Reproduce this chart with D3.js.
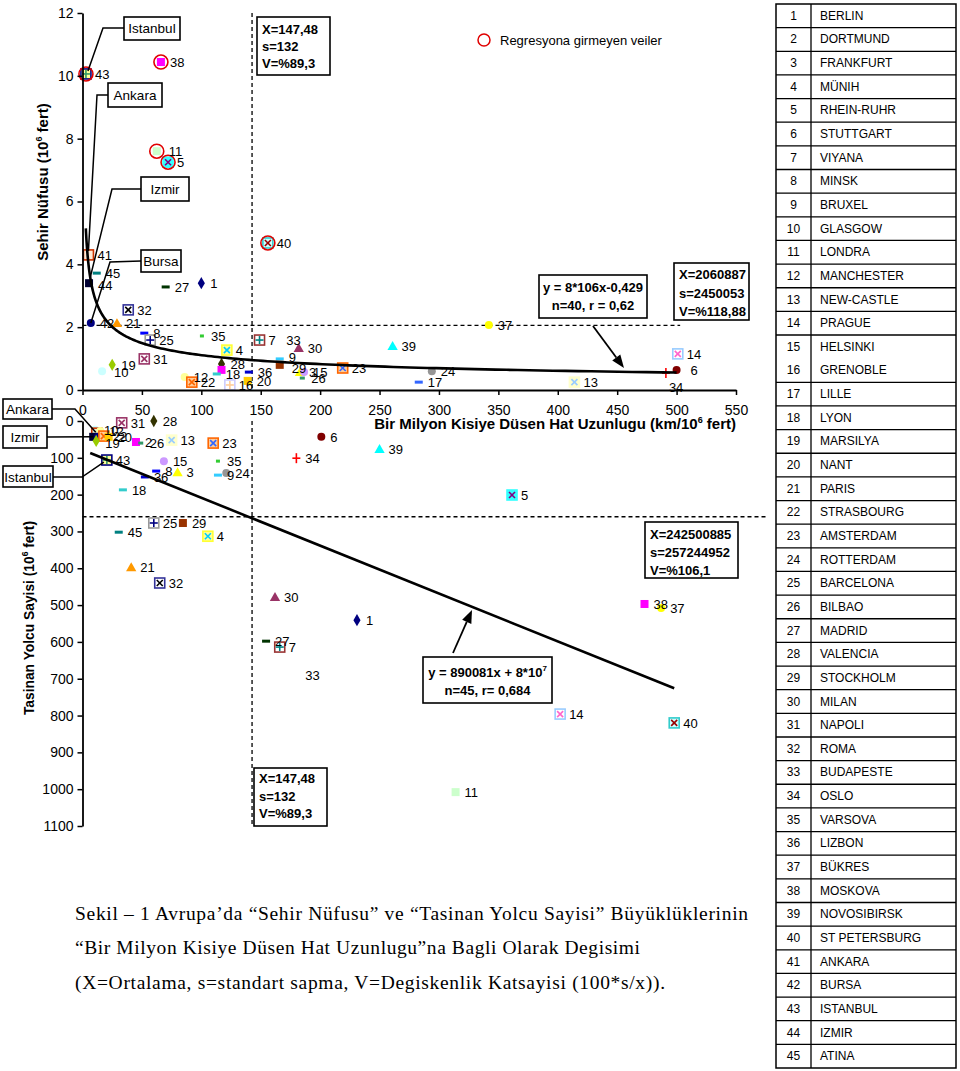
<!DOCTYPE html>
<html><head><meta charset="utf-8">
<script src="https://cdn.jsdelivr.net/npm/d3@7"></script>
<style>body{margin:0;background:#fff}svg{display:block}text{font-family:Arial,"Liberation Sans",sans-serif}</style>
</head><body><svg id="c" width="960" height="1071"></svg>
<script>
// ---------------- DATA ----------------
const cityNames = ["BERLIN","DORTMUND","FRANKFURT","MÜNIH","RHEIN-RUHR","STUTTGART","VIYANA","MINSK","BRUXEL","GLASGOW",
"LONDRA","MANCHESTER","NEW-CASTLE","PRAGUE","HELSINKI","GRENOBLE","LILLE","LYON","MARSILYA","NANT","PARIS","STRASBOURG",
"AMSTERDAM","ROTTERDAM","BARCELONA","BILBAO","MADRID","VALENCIA","STOCKHOLM","MILAN","NAPOLI","ROMA","BUDAPESTE","OSLO",
"VARSOVA","LIZBON","BÜKRES","MOSKOVA","NOVOSIBIRSK","ST PETERSBURG","ANKARA","BURSA","ISTANBUL","IZMIR","ATINA"];
const xTicks = [0,50,100,150,200,250,300,350,400,450,500,550];
const yTopTicks = [0,2,4,6,8,10,12];
const yBotTicks = [0,100,200,300,400,500,600,700,800,900,1000,1100];
// [city no, km per 10^6 people, city population (10^6)]
const topPoints = [
[43,2.9,10.06],[38,66,10.44],[11,62.5,7.6],[5,72,7.25],[40,156,4.68],
[41,5,4.3],[45,12,3.72],[44,5.5,3.4],[42,7,2.13],[21,29,2.13],[32,38.5,2.55],
[27,70,3.28],[1,100,3.4],[8,52,1.81],[25,57,1.59],[35,100.5,1.72],[4,121.5,1.27],
[31,52,0.99],[19,25,0.8],[10,16.5,0.6],[28,117,0.83],[2,117,0.64],[12,86,0.41],
[22,92,0.25],[18,113,0.51],[16,124,0.16],[36,140,0.57],[20,139,0.29],[7,149,1.59],
[33,164,1.59],[30,182,1.34],[9,166,0.99],[29,166,0.8],[3,183,0.57],[15,186.5,0.57],
[26,185,0.38],[23,219,0.7],[39,261,1.4],[24,294,0.6],[17,283,0.25],[37,342,2.07],
[13,414,0.25],[14,501,1.15],[6,500,0.64],[34,491,0.54]];
// [city no, km per 10^6 people, passengers carried (10^6)]
const botPoints = [
[28,60,0],[31,33,5],[10,10.5,24],[41,12,33],[12,15,27],[44,9,43],[42,13,43],[22,18,41],[20,22,43],[19,11.5,54],
[2,45,57],[26,49,60],[13,75,52],[23,110,60],[43,20.5,106],[15,68.5,109],[8,62,136],[3,80,139],[36,52.5,152],
[35,114,109],[9,114,147],[24,121,141],[18,34,187],[6,201,43],[34,180,101],[39,250,76],[5,361.5,201],
[25,60,277],[29,84.5,277],[4,105.5,313],[45,30.5,302],[21,41,397],[32,65,440],[30,162,478],[27,154.5,598],
[7,166,614],[33,180,690],[1,231,541],[11,314,1008],[14,402,796],[40,498,820],[38,473,497],[37,487,508]];
const nonRegression = [43,38,11,5,40];
const topHiddenLabels = [2];
const botHiddenLabels = [41,42,44];
const powerA = 8, powerB = -0.429, powerFrom = 2.8, powerTo = 500;
const linSlope = 1.3, linIntercept = 78.5, linFrom = 6.5, linTo = 498;
const meanXLine = 142.7, meanPopLine = 2.06, meanPassLine = 260;
const topMeanLineEnd = 503, botMeanLineEnd = 577;

// label nudges (pixels) for a few crowded labels
const topLabelNudge = {34:[-6,14],10:[3,1],6:[5,0],44:[0,2],11:[3,0],9:[0,-2],29:[3,3]};
const botLabelNudge = {19:[0,2]};

// ---------------- STYLES ----------------
const STYLE = {
1:{s:'diamond',f:'#000080'},2:{s:'square',f:'#ff00ff'},3:{s:'triangle',f:'#ffff00'},
4:{s:'boxX',f:'#ffff99',st:'#ffff33',c:'#00ccff'},5:{s:'boxX',f:'#33ffff',st:'#33ffff',c:'#800080'},
6:{s:'circle',f:'#800000'},7:{s:'boxPlus',f:'#fff',st:'#993333',c:'#008080'},8:{s:'dash',f:'#0000ff'},
9:{s:'dash',f:'#33ccff'},10:{s:'circle',f:'#ccffff'},11:{s:'square',f:'#ccffcc'},12:{s:'circle',f:'#ffff99'},
13:{s:'boxX',f:'#ffffcc',st:'#ffffcc',c:'#99ccff'},14:{s:'boxX',f:'#fff',st:'#99ccff',c:'#ff66cc'},
15:{s:'circle',f:'#cc99ff'},16:{s:'boxPlus',f:'#fff',st:'#ccccff',c:'#ffcc99'},17:{s:'dash',f:'#3366ff'},
18:{s:'dash',f:'#33cccc'},19:{s:'diamond',f:'#99cc00'},20:{s:'square',f:'#ffcc00'},21:{s:'triangle',f:'#ff9900'},
22:{s:'boxX',f:'#ffcc99',st:'#ff6600',c:'#ff6600'},23:{s:'boxX',f:'#ffcc99',st:'#ff6600',c:'#3366ff'},
24:{s:'circle',f:'#969696'},25:{s:'boxPlus',f:'#fff',st:'#999999',c:'#000080'},26:{s:'dash',f:'#339966',w:5},
27:{s:'dash',f:'#003300'},28:{s:'diamond',f:'#333300'},29:{s:'square',f:'#993300'},30:{s:'triangle',f:'#993366'},
31:{s:'boxX',f:'#fff',st:'#993366',c:'#993366'},32:{s:'boxX',f:'#fff',st:'#333399',c:'#000000'},
33:{s:'none'},34:{s:'plus',c:'#ff0000'},35:{s:'dash',f:'#33cc33',w:4},36:{s:'dash',f:'#0000cc'},
37:{s:'circle',f:'#ffff00'},38:{s:'square',f:'#ff00ff'},39:{s:'triangle',f:'#00ffff'},
40:{s:'boxX',f:'#ccffff',st:'#33cccc',c:'#990000'},41:{s:'outline',st:'#cc3300'},42:{s:'circle',f:'#000080'},
43:{s:'boxPlus',f:'#ffff99',st:'#000080',c:'#339966'},44:{s:'square',f:'#000033'},45:{s:'dash',f:'#008080'}};

const svg = d3.select('#c');
const xS = d3.scaleLinear().domain([0,550]).range([82.5,736]);
const yTop = d3.scaleLinear().domain([0,12]).range([390,13]);
const yBot = d3.scaleLinear().domain([0,1100]).range([421,826]);

function drawMarker(g,id,cx,cy){
  const st = STYLE[id]; const m = g.append('g').attr('transform',`translate(${cx},${cy})`);
  const line=(x1,y1,x2,y2,c)=>m.append('line').attr('x1',x1).attr('y1',y1).attr('x2',x2).attr('y2',y2).attr('stroke',c).attr('stroke-width',1.6);
  switch(st.s){
    case 'diamond': m.append('path').attr('d',d3.symbol(d3.symbolDiamond,44)()).attr('fill',st.f); break;
    case 'triangle': m.append('path').attr('d',d3.symbol(d3.symbolTriangle,46)()).attr('transform','translate(0,1)').attr('fill',st.f); break;
    case 'circle': m.append('circle').attr('r',4).attr('fill',st.f); break;
    case 'square': m.append('rect').attr('x',-4).attr('y',-4).attr('width',8).attr('height',8).attr('fill',st.f); break;
    case 'dash': {const w=st.w||8; m.append('rect').attr('x',-w/2).attr('y',-1.5).attr('width',w).attr('height',3).attr('fill',st.f); break;}
    case 'boxX': m.append('rect').attr('x',-5).attr('y',-5).attr('width',10).attr('height',10).attr('fill',st.f).attr('stroke',st.st).attr('stroke-width',1.6);
      line(-3,-3,3,3,st.c); line(-3,3,3,-3,st.c); break;
    case 'boxPlus': m.append('rect').attr('x',-5).attr('y',-5).attr('width',10).attr('height',10).attr('fill',st.f).attr('stroke',st.st).attr('stroke-width',1.6);
      line(-4,0,4,0,st.c); line(0,-4,0,4,st.c); break;
    case 'plus': line(-4,0,4,0,st.c); line(0,-5,0,5,st.c); break;
    case 'outline': m.append('rect').attr('x',-5).attr('y',-5).attr('width',10).attr('height',10).attr('fill','#ffcc99').attr('fill-opacity',0.4).attr('stroke',st.st).attr('stroke-width',1.6); break;
  }
}

function dashed(x1,y1,x2,y2){svg.append('line').attr('x1',x1).attr('y1',y1).attr('x2',x2).attr('y2',y2)
  .attr('stroke','#000').attr('stroke-width',1.3).attr('stroke-dasharray','4,3');}

// ---------------- TOP CHART ----------------
dashed(xS(meanXLine),yTop(12),xS(meanXLine),yTop(0));
dashed(xS(0),yTop(meanPopLine),xS(topMeanLineEnd),yTop(meanPopLine));

const gTop = svg.append('g');
topPoints.forEach(([id,x,y])=>drawMarker(gTop,id,xS(x),yTop(y)));
topPoints.forEach(([id,x,y])=>{ if(nonRegression.includes(id))
  gTop.append('circle').attr('cx',xS(x)).attr('cy',yTop(y)).attr('r',7).attr('fill','none').attr('stroke','#e00000').attr('stroke-width',1.6);});
topPoints.forEach(([id,x,y])=>{ if(!topHiddenLabels.includes(id)){
  const n = topLabelNudge[id]||[0,0];
  gTop.append('text').attr('x',xS(x)+9+n[0]).attr('y',yTop(y)+5+n[1]).attr('font-size',13).text(id);}});

// power trend line
const pw = d3.range(0,201).map(i=>powerFrom*Math.pow(powerTo/powerFrom,i/200));
svg.append('path').attr('d',d3.line().x(d=>xS(d)).y(d=>yTop(powerA*Math.pow(d,powerB)))(pw))
  .attr('fill','none').attr('stroke','#000').attr('stroke-width',2.6);

const axT = svg.append('g').attr('transform',`translate(${xS(0)},0)`)
  .call(d3.axisLeft(yTop).tickValues(yTopTicks).tickSize(5).tickSizeOuter(0).tickPadding(4));
const axB = svg.append('g').attr('transform',`translate(0,${yTop(0)})`)
  .call(d3.axisBottom(xS).tickValues(xTicks).tickSize(5).tickSizeOuter(0).tickPadding(10));
[axT,axB].forEach(a=>{a.select('.domain').attr('stroke-width',1.8);a.selectAll('line').attr('stroke-width',1.5);
  a.selectAll('text').attr('font-size',14).attr('font-family','Arial, Liberation Sans, sans-serif').attr('fill','#000');});

// axis titles
const xt = svg.append('text').attr('x',736).attr('y',429).attr('text-anchor','end').attr('font-size',15).attr('font-weight','bold');
xt.append('tspan').text('Bir Milyon Kisiye Düsen Hat Uzunlugu (km/10');
xt.append('tspan').attr('font-size',9).attr('dy',-6).text('6');
xt.append('tspan').attr('dy',6).text(' fert)');
const yt = svg.append('text').attr('transform','translate(48,182) rotate(-90)').attr('text-anchor','middle').attr('font-size',15).attr('font-weight','bold');
yt.append('tspan').text('Sehir Nüfusu (10');
yt.append('tspan').attr('font-size',9).attr('dy',-6).text('6');
yt.append('tspan').attr('dy',6).text(' fert)');

// ---------------- BOTTOM CHART ----------------
dashed(xS(meanXLine),yBot(0),xS(meanXLine),yBot(1100));
dashed(xS(0),yBot(meanPassLine),xS(botMeanLineEnd),yBot(meanPassLine));
const gBot = svg.append('g');
botPoints.forEach(([id,x,y])=>drawMarker(gBot,id,xS(x),yBot(y)));
botPoints.forEach(([id,x,y])=>{ if(!botHiddenLabels.includes(id)){
  const n = botLabelNudge[id]||[0,0];
  gBot.append('text').attr('x',xS(x)+9+n[0]).attr('y',yBot(y)+5+n[1]).attr('font-size',13).text(id);}});
svg.append('line').attr('x1',xS(linFrom)).attr('y1',yBot(linIntercept+linSlope*linFrom))
  .attr('x2',xS(linTo)).attr('y2',yBot(linIntercept+linSlope*linTo)).attr('stroke','#000').attr('stroke-width',2.6);
const axL2 = svg.append('g').attr('transform',`translate(${xS(0)},0)`)
  .call(d3.axisLeft(yBot).tickValues(yBotTicks).tickFormat(d3.format('d')).tickSize(5).tickSizeOuter(0).tickPadding(4));
axL2.select('.domain').attr('stroke-width',1.8); axL2.selectAll('line').attr('stroke-width',1.5);
axL2.selectAll('text').attr('font-size',14).attr('font-family','Arial, Liberation Sans, sans-serif').attr('fill','#000');
const yt2 = svg.append('text').attr('transform','translate(34,618) rotate(-90)').attr('text-anchor','middle').attr('font-size',13.8).attr('font-weight','bold');
yt2.append('tspan').text('Tasinan Yolcu Sayisi (10');
yt2.append('tspan').attr('font-size',8.5).attr('dy',-6).text('6');
yt2.append('tspan').attr('dy',6).text(' fert)');

// ---------------- ANNOTATIONS ----------------
function box(x,y,w,h,lines,opt={}){
  svg.append('rect').attr('x',x).attr('y',y).attr('width',w).attr('height',h).attr('fill','#fff').attr('stroke','#000').attr('stroke-width',opt.sw||1.6);
  lines.forEach((l,i)=>{
    const t = svg.append('text').attr('x',opt.center? x+w/2 : x+5).attr('y',y+(opt.top||15)+i*(opt.lh||17.5))
      .attr('font-size',opt.fs||13).attr('font-weight',opt.bold===false?'normal':'bold').attr('text-anchor',opt.center?'middle':'start');
    if(Array.isArray(l)){ t.append('tspan').text(l[0]); t.append('tspan').attr('font-size',8).attr('dy',-6).text(l[1]); }
    else t.text(l);
  });
}
function poly(pts,w){svg.append('path').attr('d',d3.line()(pts)).attr('fill','none').attr('stroke','#000').attr('stroke-width',w||1.5);}
function arrow(x1,y1,x2,y2){
  const a=Math.atan2(y2-y1,x2-x1), L=13, W=5;
  svg.append('line').attr('x1',x1).attr('y1',y1).attr('x2',x2-Math.cos(a)*L).attr('y2',y2-Math.sin(a)*L).attr('stroke','#000').attr('stroke-width',1.8);
  const bx=x2-Math.cos(a)*L, by=y2-Math.sin(a)*L;
  svg.append('path').attr('d',`M${x2},${y2}L${bx+Math.sin(a)*W},${by-Math.cos(a)*W}L${bx-Math.sin(a)*W},${by+Math.cos(a)*W}Z`).attr('fill','#000');
}

// top leaders
const P=(arr,id,ys)=>{const p=arr.find(d=>d[0]===id);return [xS(p[1]),ys(p[2])];};
poly([[124,28],[103,28],[P(topPoints,43,yTop)[0]+2,P(topPoints,43,yTop)[1]-3]]);
poly([[108,95],[97,95],[P(topPoints,41,yTop)[0],P(topPoints,41,yTop)[1]-4]]);
poly([[141,189],[112,189],[P(topPoints,44,yTop)[0]+1,P(topPoints,44,yTop)[1]-5]]);
poly([[141,261],[110,262],P(topPoints,42,yTop)]);
box(124,17,56,23,['Istanbul'],{bold:false,fs:13.5,center:true,top:16});
box(108,83,54,24,['Ankara'],{bold:false,fs:13.5,center:true,top:17});
box(141,177,48,24,['Izmir'],{bold:false,fs:13.5,center:true,top:17});
box(141,250,40,22,['Bursa'],{bold:false,fs:13.5,center:true,top:16});

box(257,17,73,58,['X=147,48','s=132','V=%89,3'],{top:17,lh:17});
box(674,263,75,57,['X=2060887','s=2450053','V=%118,88'],{top:16,lh:18.5});
box(539,275,108,43,['y = 8*106x-0,429','n=40, r = 0,62'],{center:true,top:17,lh:18});
arrow(593,326,624,368);

// legend
svg.append('circle').attr('cx',484).attr('cy',40).attr('r',6).attr('fill','none').attr('stroke','#e00000').attr('stroke-width',1.5);
svg.append('text').attr('x',500).attr('y',45).attr('font-size',13).text('Regresyona girmeyen veiler');

// bottom leaders
poly([[52,409],[75,409],[P(botPoints,41,yBot)[0]-1,P(botPoints,41,yBot)[1]-1]]);
poly([[47,437],P(botPoints,44,yBot)]);
poly([[53,477],[82,477],[P(botPoints,43,yBot)[0]-3,P(botPoints,43,yBot)[1]+2]]);
box(3,399,49,20,['Ankara'],{bold:false,fs:13.5,center:true,top:15});
box(3,426,44,22,['Izmir'],{bold:false,fs:13.5,center:true,top:16});
box(3,466,50,21,['Istanbul'],{bold:false,fs:13.5,center:true,top:15.5});

box(254,768,73,58,['X=147,48','s=132','V=%89,3'],{top:15,lh:17.5});
box(645,522,93,56,['X=242500885','s=257244952','V=%106,1'],{top:17,lh:18});
box(423,657,129,46,[['y = 890081x + 8*10','7'],'n=45, r= 0,684'],{center:true,top:20,lh:18});
arrow(453,653,472,610);

// ---------------- CAPTION ----------------
const cap = svg.append('g').attr('font-size',19.5);
const capLines = [
 ['Sekil – 1 Avrupa’da “Sehir Nüfusu” ve “Tasinan Yolcu Sayisi” Büyüklüklerinin',920,673],
 ['“Bir Milyon Kisiye Düsen Hat Uzunlugu”na Bagli Olarak Degisimi',954,565],
 ['(X=Ortalama, s=standart sapma, V=Degiskenlik Katsayisi (100*s/x)).',989,590]];
capLines.forEach(([t,y,L])=>cap.append('text').attr('x',75).attr('y',y).attr('textLength',L).attr('lengthAdjust','spacing')
  .style('font-family','"Liberation Serif","Times New Roman",serif').text(t));

// ---------------- TABLE ----------------
const tX0=776, tX1=811, tX2=956, tY0=4, tY1=1068;
const rh=(tY1-tY0)/cityNames.length;
const tg=svg.append('g');
tg.append('rect').attr('x',tX0).attr('y',tY0).attr('width',tX2-tX0).attr('height',tY1-tY0).attr('fill','none').attr('stroke','#000').attr('stroke-width',1.5);
tg.append('line').attr('x1',tX1).attr('x2',tX1).attr('y1',tY0).attr('y2',tY1).attr('stroke','#000').attr('stroke-width',1.3);
cityNames.forEach((n,i)=>{
  const y=tY0+rh*i;
  if(i>0 && i!==15) tg.append('line').attr('x1',tX0).attr('x2',tX2).attr('y1',y).attr('y2',y).attr('stroke','#000').attr('stroke-width',1.3);
  tg.append('text').attr('x',(tX0+tX1)/2).attr('y',y+rh/2+4).attr('text-anchor','middle').attr('font-size',12).text(i+1);
  tg.append('text').attr('x',820).attr('y',y+rh/2+4).attr('font-size',12).text(n);
});
</script></body></html>
